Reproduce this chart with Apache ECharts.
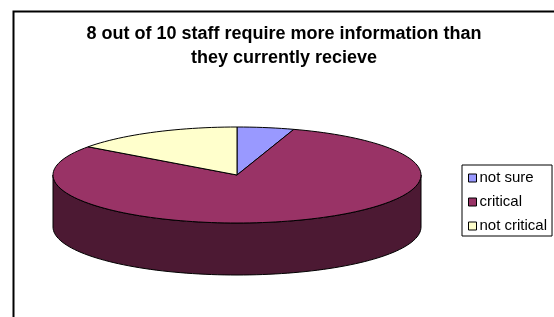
<!DOCTYPE html>
<html>
<head>
<meta charset="utf-8">
<script src="https://cdn.jsdelivr.net/npm/echarts@6/dist/echarts.min.js"></script>
<style>
  html, body { margin: 0; padding: 0; background: #fff; }
  #chart { width: 554px; height: 317px; }
</style>
</head>
<body>
<div id="chart"></div>
<script>
// data (percent of staff)
var categories = ['not sure', 'critical', 'not critical'];
var values = [5, 80, 15];
var topColors = ['#9999FF', '#993366', '#FFFFCC'];
var sideColors = ['#4C4C80', '#4C1933', '#808066'];

// layout of the tilted pie
var cx = 237, cy = 175, rx = 184, ry = 48, depth = 52;

var total = values.reduce(function (a, b) { return a + b }, 0);

function pt(theta, dy) {
  // theta in degrees, clockwise from 12 o'clock
  var r = theta * Math.PI / 180;
  return [cx + rx * Math.sin(r), cy - ry * Math.cos(r) + (dy || 0)];
}

function arc(a1, a2, dy) {
  var pts = [];
  var n = Math.max(2, Math.ceil(Math.abs(a2 - a1) / 2));
  for (var k = 0; k <= n; k++) {
    pts.push(pt(a1 + (a2 - a1) * k / n, dy));
  }
  return pts;
}

function makeSeries(i) {
  return {
    type: 'custom',
    name: categories[i],
    coordinateSystem: 'none',
    itemStyle: { color: topColors[i] },
    data: [{ name: categories[i], value: values[i] }],
    renderItem: function (params, api) {
      var before = 0;
      for (var j = 0; j < i; j++) before += values[j];
      var a1 = before / total * 360;
      var a2 = a1 + api.value(0) / total * 360;
      var children = [];
      // visible side wall (front half only)
      var s = Math.max(a1, 90), e = Math.min(a2, 270);
      if (e > s) {
        var wall = arc(s, e, 0).concat(arc(e, s, depth));
        children.push({
          type: 'polygon',
          shape: { points: wall },
          style: { fill: sideColors[i], stroke: '#000', lineWidth: 1 }
        });
      }
      var top = [[cx, cy]].concat(arc(a1, a2, 0));
      children.push({
        type: 'polygon',
        shape: { points: top },
        style: { fill: topColors[i], stroke: '#000', lineWidth: 1, lineJoin: 'round' }
      });
      return { type: 'group', children: children };
    }
  };
}

var chart = echarts.init(document.getElementById('chart'));
chart.setOption({
  animation: false,
  graphic: [{
    type: 'rect',
    left: 11, top: 9,
    shape: { width: 620, height: 400 },
    style: { fill: 'none', stroke: '#000', lineWidth: 2 },
    silent: true
  }],
  title: {
    text: '8 out of 10 staff require more information than\nthey currently recieve',
    left: 284,
    top: 22,
    padding: 0,
    textAlign: 'center',
    textStyle: {
      fontFamily: 'Liberation Sans, Arial, sans-serif',
      fontSize: 18,
      fontWeight: 'bold',
      lineHeight: 24,
      color: '#000'
    }
  },
  legend: {
    orient: 'vertical',
    left: 462,
    top: 165,
    padding: [5, 5, 2, 6],
    itemGap: 8,
    itemWidth: 8,
    itemHeight: 8,
    icon: 'rect',
    borderColor: '#000',
    borderWidth: 1,
    itemStyle: { borderColor: '#000', borderWidth: 1 },
    textStyle: {
      fontFamily: 'Liberation Sans, Arial, sans-serif',
      fontSize: 15,
      lineHeight: 16,
      color: '#000',
      padding: [0, 0, 0, -2]
    },
    data: categories
  },
  series: categories.map(function (c, i) { return makeSeries(i) })
});
</script>
</body>
</html>
